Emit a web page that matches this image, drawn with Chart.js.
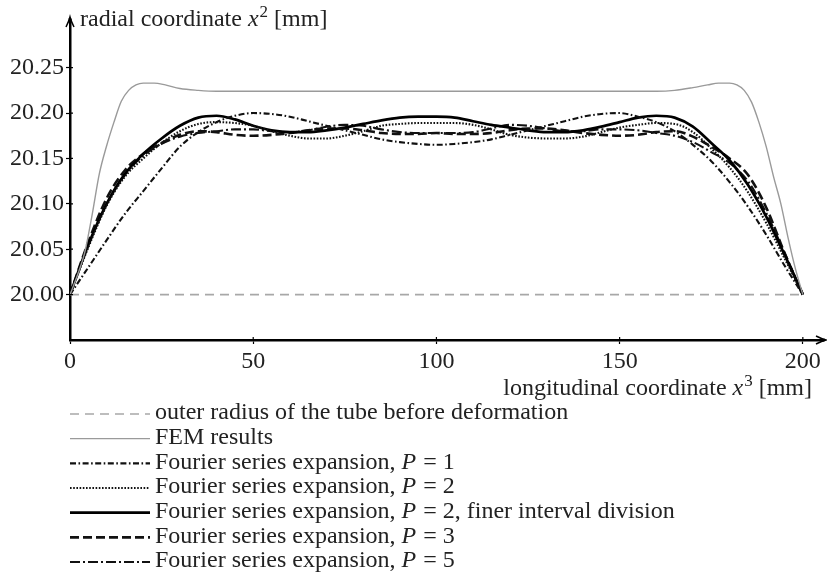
<!DOCTYPE html>
<html><head><meta charset="utf-8">
<script src="https://cdn.jsdelivr.net/npm/chart.js@4/dist/chart.umd.min.js"></script>
<style>html,body{margin:0;padding:0;background:#fff}#wrap{width:827px;height:588px}</style>
</head><body><div id="wrap"><canvas id="c" width="827" height="588"></canvas></div>
<script>
// ---- data ----
const xGrid = [0,5,10,15,20,25,30,35,40,45,50,55,60,65,70,75,80,85,90,95,100,105,110,115,120,125,130,135,140,145,150,155,160,165,170,175,180,185,190,195,200];
const fourierP1 = [20.000,20.030,20.060,20.089,20.114,20.139,20.163,20.179,20.190,20.197,20.200,20.199,20.196,20.191,20.186,20.181,20.176,20.171,20.168,20.166,20.165,20.166,20.168,20.171,20.176,20.181,20.186,20.191,20.196,20.199,20.200,20.196,20.190,20.180,20.165,20.147,20.124,20.097,20.066,20.032,20.000];
const fourierP2 = [20.000,20.052,20.098,20.130,20.150,20.167,20.180,20.188,20.190,20.189,20.186,20.180,20.175,20.172,20.172,20.175,20.180,20.186,20.188,20.189,20.189,20.189,20.187,20.182,20.176,20.173,20.172,20.172,20.174,20.179,20.184,20.187,20.189,20.188,20.179,20.161,20.140,20.113,20.079,20.040,20.000];
const fourierP2fine = [20.000,20.055,20.100,20.133,20.155,20.172,20.186,20.195,20.197,20.193,20.186,20.181,20.179,20.179,20.181,20.184,20.188,20.192,20.195,20.196,20.196,20.195,20.191,20.187,20.184,20.181,20.179,20.179,20.181,20.185,20.190,20.195,20.197,20.195,20.185,20.167,20.148,20.121,20.086,20.044,20.000];
const fourierP3 = [20.000,20.058,20.106,20.137,20.155,20.167,20.176,20.180,20.179,20.176,20.175,20.176,20.178,20.181,20.183,20.183,20.181,20.178,20.177,20.177,20.178,20.177,20.177,20.178,20.181,20.183,20.183,20.181,20.178,20.176,20.175,20.176,20.179,20.180,20.174,20.163,20.150,20.132,20.096,20.046,20.000];
const fourierP5 = [20.000,20.054,20.100,20.132,20.153,20.166,20.174,20.178,20.180,20.182,20.182,20.180,20.179,20.181,20.185,20.187,20.186,20.182,20.179,20.178,20.178,20.178,20.179,20.183,20.187,20.186,20.183,20.180,20.180,20.182,20.182,20.181,20.178,20.175,20.168,20.157,20.145,20.125,20.090,20.046,20.000];
const femX = [0,2,4,6,8,10,12,14,16,18,20,23,26,30,35,40,60,80,100,120,140,160,165,170,174,177,180,182,184,186,188,190,192,194,196,198,200];
const femY = [20.000,20.021,20.046,20.087,20.133,20.164,20.190,20.213,20.225,20.231,20.233,20.233,20.231,20.227,20.225,20.224,20.224,20.224,20.224,20.224,20.224,20.224,20.225,20.228,20.231,20.233,20.233,20.231,20.225,20.212,20.190,20.163,20.130,20.100,20.062,20.028,20.000];
const baseX = [0,200];
const baseY = [20.00,20.00];
const xTicks = [0,50,100,150,200];
const yTicks = [20.00,20.05,20.10,20.15,20.20,20.25];
const seriesLabels = [
  'outer radius of the tube before deformation',
  'FEM results',
  'Fourier series expansion, P = 1',
  'Fourier series expansion, P = 2',
  'Fourier series expansion, P = 2, finer interval division',
  'Fourier series expansion, P = 3',
  'Fourier series expansion, P = 5'
];

const FONT = 'Liberation Serif';
const FSIZE = 24;
const pts = (xs, ys) => xs.map((x, i) => ({x, y: ys[i]}));

const datasets = [
  {label: seriesLabels[0], data: pts(baseX, baseY), borderColor: '#a8a8a8', borderWidth: 1.6, borderDash: [9,6]},
  {label: seriesLabels[1], data: pts(femX, femY), borderColor: '#9a9a9a', borderWidth: 1.4, borderDash: []},
  {label: seriesLabels[2], data: pts(xGrid, fourierP1), borderColor: '#111', borderWidth: 2.1, borderDash: [6,2.5,1.6,2.5]},
  {label: seriesLabels[3], data: pts(xGrid, fourierP2), borderColor: '#111', borderWidth: 2.1, borderDash: [1.6,1.6]},
  {label: seriesLabels[4], data: pts(xGrid, fourierP2fine), borderColor: '#000', borderWidth: 2.7, borderDash: []},
  {label: seriesLabels[5], data: pts(xGrid, fourierP3), borderColor: '#111', borderWidth: 2.6, borderDash: [9,4]},
  {label: seriesLabels[6], data: pts(xGrid, fourierP5), borderColor: '#111', borderWidth: 2.1, borderDash: [10,3,2,3]}
];

function richParts(text) {
  const out = [];
  const m = text.match(/^(.*?)(P)( = .*)$/);
  if (m) { out.push([m[1],'n'],[m[2],'i'],[m[3],'n']); } else out.push([text,'n']);
  return out;
}
function setFont(ctx, s) {
  if (s === 'sup') ctx.font = `17px "${FONT}"`;
  else ctx.font = (s === 'i' ? 'italic ' : '') + `${FSIZE}px "${FONT}"`;
}
function measureParts(ctx, parts) {
  let w = 0;
  for (const [t, s] of parts) { setFont(ctx, s); w += ctx.measureText(t).width; }
  return w;
}
function drawParts(ctx, parts, x, y) {
  let cx = x;
  for (const [t, s] of parts) {
    setFont(ctx, s);
    ctx.fillText(t, cx, s === 'sup' ? y - 9 : y);
    cx += ctx.measureText(t).width + (s === 'i' ? 1 : 0);
  }
}

const decor = {
  id: 'decor',
  afterDraw(chart) {
    const ctx = chart.ctx, a = chart.chartArea;
    const xs = chart.scales.x, ys = chart.scales.y;
    ctx.save();
    ctx.strokeStyle = '#000'; ctx.fillStyle = '#000';
    ctx.lineWidth = 2.5;
    ctx.beginPath(); ctx.moveTo(a.left, a.top + 2); ctx.lineTo(a.left, a.top - 2); ctx.stroke();
    ctx.lineWidth = 1.5;
    ctx.beginPath();
    ctx.moveTo(a.left - 4, a.top + 7); ctx.quadraticCurveTo(a.left - 1, a.top + 1, a.left, a.top - 3);
    ctx.quadraticCurveTo(a.left + 1, a.top + 1, a.left + 4, a.top + 7);
    ctx.stroke();
    ctx.beginPath();
    ctx.moveTo(a.right - 7, a.bottom - 4); ctx.quadraticCurveTo(a.right - 1, a.bottom - 1, a.right + 3, a.bottom);
    ctx.quadraticCurveTo(a.right - 1, a.bottom + 1, a.right - 7, a.bottom + 4);
    ctx.stroke();
    ctx.lineWidth = 2.5;
    ctx.beginPath(); ctx.moveTo(a.right - 2, a.bottom); ctx.lineTo(a.right + 2, a.bottom); ctx.stroke();
    ctx.lineWidth = 1.2;
    ctx.beginPath();
    for (const t of ys.ticks) { const py = ys.getPixelForValue(t.value); ctx.moveTo(a.left, py); ctx.lineTo(a.left + 3, py); }
    for (const t of xs.ticks) { const px = xs.getPixelForValue(t.value); ctx.moveTo(px, a.bottom); ctx.lineTo(px, a.bottom - 3); }
    ctx.stroke();
    ctx.fillStyle = '#222';
    ctx.textBaseline = 'alphabetic'; ctx.textAlign = 'left';
    drawParts(ctx, [['radial coordinate ','n'],['x','i'],['2','sup'],[' [mm]','n']], a.left + 10, 26);
    const xt = [['longitudinal coordinate ','n'],['x','i'],['3','sup'],[' [mm]','n']];
    drawParts(ctx, xt, 811 - measureParts(ctx, xt), 395);
    ctx.textBaseline = 'middle';
    chart.data.datasets.forEach((ds, i) => {
      const yc = 413 + i * 24.67;
      ctx.save();
      ctx.strokeStyle = ds.borderColor; ctx.lineWidth = ds.borderWidth;
      ctx.setLineDash(ds.borderDash || []);
      ctx.beginPath(); ctx.moveTo(70, yc + 1); ctx.lineTo(150, yc + 1); ctx.stroke();
      ctx.restore();
      ctx.fillStyle = '#222';
      drawParts(ctx, richParts(ds.label), 155, yc);
    });
    ctx.restore();
  }
};

const tickFont = {family: FONT, size: FSIZE};
new Chart(document.getElementById('c'), {
  type: 'line',
  data: {datasets},
  options: {
    responsive: false, animation: false, devicePixelRatio: 1,
    layout: {padding: {left: 0, right: 4, top: 20, bottom: 198}},
    plugins: {legend: {display: false}, tooltip: {enabled: false}},
    elements: {point: {radius: 0}, line: {cubicInterpolationMode: 'monotone', borderCapStyle: 'butt'}},
    scales: {
      x: {
        type: 'linear', min: 0, max: 205.5,
        afterFit: s => { s.height = 50; },
        afterBuildTicks: s => { s.ticks = xTicks.map(v => ({value: v})); },
        grid: {display: true, drawOnChartArea: false, drawTicks: true, tickLength: 4, tickColor: '#000', tickWidth: 1.2},
        border: {display: true, color: '#000', width: 2.5},
        ticks: {font: tickFont, color: '#222', padding: 3, maxRotation: 0, autoSkip: false, callback: v => String(v)}
      },
      y: {
        type: 'linear', min: 19.95, max: 20.3025,
        afterFit: s => { s.width = 70; },
        afterBuildTicks: s => { s.ticks = yTicks.map(v => ({value: v})); },
        grid: {display: true, drawOnChartArea: false, drawTicks: true, tickLength: 4, tickColor: '#000', tickWidth: 1.2},
        border: {display: true, color: '#000', width: 2.5},
        ticks: {font: tickFont, color: '#222', padding: 2, autoSkip: false, callback: v => Number(v).toFixed(2)}
      }
    }
  },
  plugins: [decor]
});
</script></body></html>
